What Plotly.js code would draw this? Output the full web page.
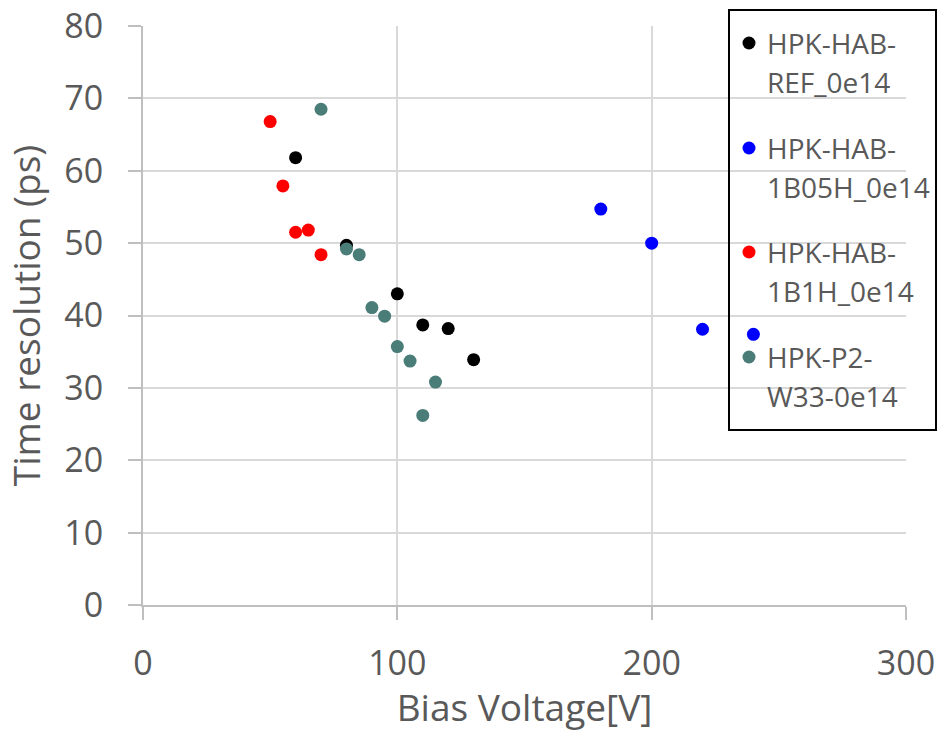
<!DOCTYPE html>
<html>
<head>
<meta charset="utf-8">
<script src="https://cdn.plot.ly/plotly-3.0.1.min.js"></script>
<style>html,body{margin:0;padding:0;background:#fff;}#chart{width:944px;height:732px;}</style>
</head>
<body>
<div id="chart"></div>
<script>
// Series names (legend labels, wrapped as in the original)
const seriesNames = ["HPK-HAB-<br>REF_0e14", "HPK-HAB-<br>1B05H_0e14", "HPK-HAB-<br>1B1H_0e14", "HPK-P2-<br>W33-0e14"];
const seriesColors = ["#000000", "#0000ff", "#ff0000", "#4a7c78"];

// HPK-HAB-REF_0e14
const refV = [60, 80, 100, 110, 120, 130];
const refT = [61.8, 49.7, 43.0, 38.7, 38.2, 33.9];
// HPK-HAB-1B05H_0e14
const b05V = [180, 200, 220, 240];
const b05T = [54.7, 50.0, 38.1, 37.4];
// HPK-HAB-1B1H_0e14
const b1V = [50, 55, 60, 65, 70];
const b1T = [66.8, 57.9, 51.5, 51.8, 48.4];
// HPK-P2-W33-0e14
const w33V = [70, 80, 85, 90, 95, 100, 105, 110, 115];
const w33T = [68.5, 49.2, 48.4, 41.1, 39.9, 35.7, 33.7, 26.2, 30.8];

// Axis ticks
const xTicks = [0, 100, 200, 300];
const yTicks = [0, 10, 20, 30, 40, 50, 60, 70, 80];

const xs = [refV, b05V, b1V, w33V];
const ys = [refT, b05T, b1T, w33T];

const traces = xs.map((x, i) => ({
  type: "scatter",
  mode: "markers",
  x: x,
  y: ys[i],
  name: seriesNames[i].replace("<br>", ""),
  marker: {color: seriesColors[i], size: 13, line: {width: 0}},
  hoverinfo: "x+y"
}));

const txt = "#595959";

// Plot area geometry in pixels (for placing the boxed legend)
const L = 143, R = 906, T = 26, B = 605;
const px2x = p => (p - L) / (R - L);
const py2y = p => (B - p) / (B - T);

const shapes = [{
  type: "rect", xref: "paper", yref: "paper",
  x0: px2x(729), x1: px2x(936), y0: py2y(430), y1: py2y(10),
  line: {color: "#000000", width: 2}, fillcolor: "rgba(0,0,0,0)", layer: "above"
}];
const annotations = [];
const entryY = [43, 148, 252, 357];
seriesNames.forEach((n, i) => {
  const yc = entryY[i];
  shapes.push({
    type: "circle", xref: "paper", yref: "paper",
    xsizemode: "pixel", ysizemode: "pixel",
    xanchor: px2x(749), yanchor: py2y(yc),
    x0: -6.5, x1: 6.5, y0: -6.5, y1: 6.5,
    fillcolor: seriesColors[i], line: {width: 0}, layer: "above"
  });
  n.split("<br>").forEach((line, k) => {
    annotations.push({
      xref: "paper", yref: "paper",
      x: px2x(765), y: py2y(yc + k * 39),
      xanchor: "left", yanchor: "middle",
      text: line, showarrow: false,
      font: {size: 28, color: txt, family: "Open Sans, sans-serif"}
    });
  });
});

const layout = {
  width: 944,
  height: 732,
  margin: {l: L, r: 944 - R, t: T, b: 732 - B},
  paper_bgcolor: "#ffffff",
  plot_bgcolor: "#ffffff",
  font: {family: "Open Sans, sans-serif", color: txt},
  showlegend: false,
  xaxis: {
    range: [0, 300],
    tickvals: xTicks,
    ticktext: xTicks.map(String),
    showgrid: true,
    gridcolor: "#d9d9d9",
    gridwidth: 2,
    zeroline: false,
    showline: true,
    linecolor: "#bfbfbf",
    linewidth: 2,
    ticks: "outside",
    ticklen: 13,
    tickwidth: 2,
    tickcolor: "#bfbfbf",
    ticklabelstandoff: 14,
    tickfont: {size: 34, color: txt},
    title: {text: "Bias Voltage[V]", font: {size: 37, color: txt}, standoff: 8},
    fixedrange: true
  },
  yaxis: {
    range: [0, 80],
    tickvals: yTicks,
    ticktext: yTicks.map(String),
    showgrid: true,
    gridcolor: "#d9d9d9",
    gridwidth: 2,
    zeroline: false,
    showline: true,
    linecolor: "#bfbfbf",
    linewidth: 2,
    ticks: "outside",
    ticklen: 13,
    tickwidth: 2,
    tickcolor: "#bfbfbf",
    ticklabelstandoff: 18,
    tickfont: {size: 34, color: txt},
    title: {text: "Time resolution (ps)", font: {size: 37, color: txt}, standoff: 12},
    fixedrange: true
  },
  shapes: shapes,
  annotations: annotations
};

Plotly.newPlot("chart", traces, layout, {displayModeBar: false, staticPlot: true});
</script>
</body>
</html>
